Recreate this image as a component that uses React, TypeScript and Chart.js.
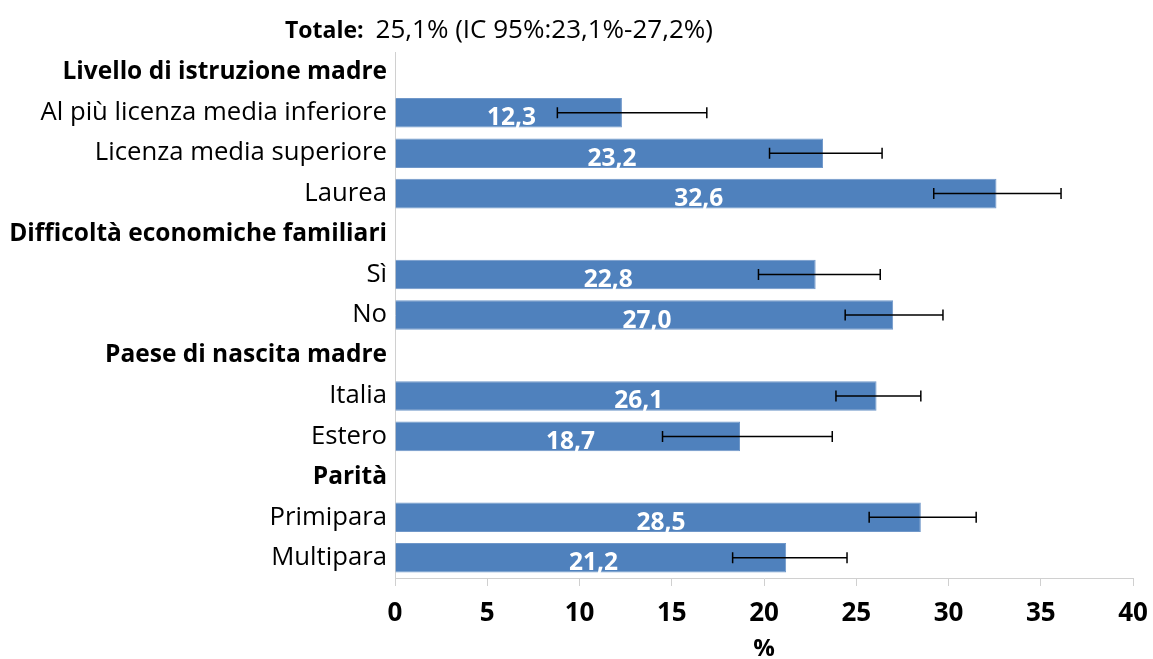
import React, { useEffect, useRef } from "react";
import { Chart, registerables } from "chart.js";

Chart.register(...registerables);

const categories = [
  "Livello di istruzione madre",
  "Al più licenza media inferiore",
  "Licenza media superiore",
  "Laurea",
  "Difficoltà economiche familiari",
  "Sì",
  "No",
  "Paese di nascita madre",
  "Italia",
  "Estero",
  "Parità",
  "Primipara",
  "Multipara",
];
const headers = [
  "Livello di istruzione madre",
  "Difficoltà economiche familiari",
  "Paese di nascita madre",
  "Parità",
];
const values = [null, 12.3, 23.2, 32.6, null, 22.8, 27.0, null, 26.1, 18.7, null, 28.5, 21.2];
const lowerCI = [null, 8.8, 20.3, 29.2, null, 19.7, 24.4, null, 23.9, 14.5, null, 25.7, 18.3];
const upperCI = [null, 16.9, 26.4, 36.1, null, 26.3, 29.7, null, 28.5, 23.7, null, 31.5, 24.5];
const titleBold = "Totale:";
const titleRest = "25,1% (IC 95%:23,1%-27,2%)";
const xAxisTitle = "%";
const xMin = 0;
const xMax = 40;
const xStep = 5;

const FONT = "'Open Sans', 'Noto Sans', sans-serif";

const fmt = (v: number) => v.toFixed(1).replace(".", ",");

const overlayPlugin = {
  id: "overlay",
  afterDatasetsDraw(chart: any) {
    const ctx = chart.ctx;
    const meta = chart.getDatasetMeta(0);
    const xs = chart.scales.x;
    ctx.save();
    // value labels
    ctx.fillStyle = "#ffffff";
    ctx.font = `bold 24.5px ${FONT}`;
    ctx.textAlign = "center";
    ctx.textBaseline = "alphabetic";
    values.forEach((v, i) => {
      if (v == null) return;
      const el = meta.data[i];
      const x0 = xs.getPixelForValue(0);
      const x1 = xs.getPixelForValue(v);
      ctx.fillText(fmt(v), (x0 + x1) / 2 + 3, el.y + 12.5);
    });
    // error bars
    ctx.strokeStyle = "#000000";
    ctx.lineWidth = 1.5;
    values.forEach((v, i) => {
      const lo = lowerCI[i];
      const hi = upperCI[i];
      if (v == null || lo == null || hi == null) return;
      const el = meta.data[i];
      const xl = xs.getPixelForValue(lo);
      const xh = xs.getPixelForValue(hi);
      const y = el.y;
      ctx.beginPath();
      ctx.moveTo(xl, y);
      ctx.lineTo(xh, y);
      ctx.moveTo(xl, y - 5.5);
      ctx.lineTo(xl, y + 5.5);
      ctx.moveTo(xh, y - 5.5);
      ctx.lineTo(xh, y + 5.5);
      ctx.stroke();
    });
    // title
    ctx.fillStyle = "#000000";
    ctx.textAlign = "left";
    ctx.textBaseline = "alphabetic";
    ctx.font = `bold 23px ${FONT}`;
    const tx = 285;
    ctx.fillText(titleBold, tx, 38);
    const w = ctx.measureText(titleBold).width;
    ctx.font = `26px ${FONT}`;
    ctx.fillText(titleRest, tx + w + 12, 38);
    ctx.restore();
  },
};

export default function App() {
  const ref = useRef<HTMLCanvasElement | null>(null);
  useEffect(() => {
    if (!ref.current) return;
    const chart = new Chart(ref.current, {
      type: "bar",
      data: {
        labels: categories,
        datasets: [
          {
            data: values as any,
            backgroundColor: "#4f81bd",
            borderColor: "#6f97c9",
            borderWidth: 1,
            barPercentage: 0.73,
            categoryPercentage: 1,
          },
        ],
      },
      options: {
        indexAxis: "y",
        animation: false,
        responsive: true,
        maintainAspectRatio: false,
        layout: { padding: { top: 52, right: 0, left: 0, bottom: 0 } },
        plugins: {
          legend: { display: false },
          tooltip: { enabled: false },
          title: { display: false },
        },
        scales: {
          x: {
            min: xMin,
            max: xMax,
            afterFit: (scale: any) => {
              scale.height = 81;
              scale.paddingRight = 20;
              scale.paddingLeft = 0;
            },
            ticks: {
              stepSize: xStep,
              color: "#000000",
              padding: 12,
              font: { family: FONT, size: 26, weight: "bold" },
            },
            grid: {
              display: true,
              drawOnChartArea: false,
              drawTicks: true,
              tickLength: 8,
              color: "#d0d0d0",
            },
            border: { display: true, color: "#d0d0d0", width: 1 },
            title: {
              display: true,
              text: xAxisTitle,
              color: "#000000",
              padding: { top: 0, bottom: -2 },
              font: { family: FONT, size: 24, weight: "bold", lineHeight: 1 },
            },
          },
          y: {
            afterFit: (scale: any) => {
              scale.width = 395;
            },
            ticks: {
              color: "#000000",
              padding: 8,
              autoSkip: false,
              font: (c: any) => {
                const isHeader = headers.includes(categories[c.index]);
                return {
                  family: FONT,
                  size: isHeader ? 24.5 : 25.7,
                  weight: isHeader ? "bold" : "normal",
                };
              },
            },
            grid: { display: false, drawTicks: false },
            border: { display: true, color: "#d0d0d0", width: 1 },
          },
        },
      },
      plugins: [overlayPlugin],
    });
    return () => chart.destroy();
  }, []);
  return (
    <div style={{ position: "fixed", left: 0, top: 0, width: 1153, height: 659, background: "#ffffff" }}>
      <canvas ref={ref} />
    </div>
  );
}
